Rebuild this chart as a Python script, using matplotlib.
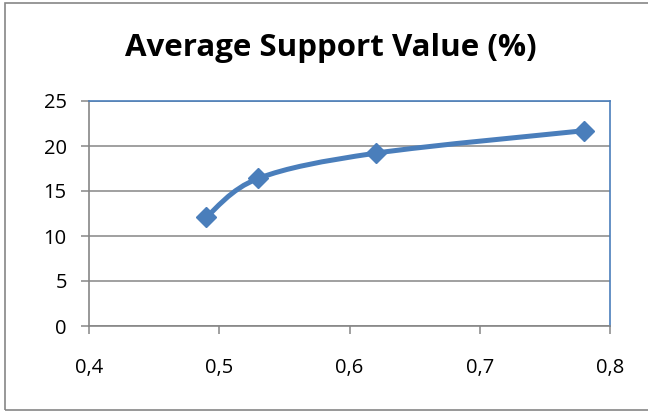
import matplotlib.pyplot as plt
from matplotlib.path import Path
from matplotlib.patches import PathPatch, Rectangle
from matplotlib.ticker import FuncFormatter

# data
support = [0.49, 0.53, 0.62, 0.78]
avg_value = [12.1, 16.4, 19.2, 21.7]
title = "Average Support Value (%)"

blue = "#4A7EBB"
grey = "#868686"

plt.rcParams['font.family'] = ['Open Sans', 'DejaVu Sans']

fig = plt.figure(figsize=(6.48, 4.12), dpi=100)
ax = fig.add_axes([89 / 648, 1 - 326 / 412, (610 - 89) / 648, (326 - 101) / 412])

# outer chart frame
fig.patches.append(Rectangle((5 / 648, 2 / 412), 1.2, 1 - 5 / 412, transform=fig.transFigure,
                             fill=False, edgecolor=grey, linewidth=1.2))

# smooth line (Excel style bezier through the points)
pts = list(zip(support, avg_value))
verts = [pts[0]]
codes = [Path.MOVETO]
for i in range(len(pts) - 1):
    p0 = pts[i - 1] if i > 0 else pts[i]
    p1 = pts[i]
    p2 = pts[i + 1]
    p3 = pts[i + 2] if i + 2 < len(pts) else pts[i + 1]
    c1 = (p1[0] + (p2[0] - p0[0]) / 6, p1[1] + (p2[1] - p0[1]) / 6)
    c2 = (p2[0] - (p3[0] - p1[0]) / 6, p2[1] - (p3[1] - p1[1]) / 6)
    verts += [c1, c2, p2]
    codes += [Path.CURVE4] * 3
ax.add_patch(PathPatch(Path(verts, codes), fill=False, edgecolor=blue, linewidth=3.6,
                       capstyle='round', joinstyle='round', zorder=3))
ax.plot(support, avg_value, linestyle='none', marker='D', markersize=10, color=blue, zorder=4)

ax.set_xlim(0.4, 0.8)
ax.set_ylim(0, 25)
ax.set_xticks([0.4, 0.5, 0.6, 0.7, 0.8])
ax.set_yticks(range(0, 26, 5))
ax.xaxis.set_major_formatter(FuncFormatter(lambda v, p: f"{v:.1f}".replace('.', ',')))
ax.grid(axis='y', color=grey, linewidth=1.1)
ax.set_axisbelow(True)

for s in ['top', 'right']:
    ax.spines[s].set_color(blue)
    ax.spines[s].set_linewidth(1.2)
for s in ['left', 'bottom']:
    ax.spines[s].set_color(grey)
    ax.spines[s].set_linewidth(1.2)
ax.tick_params(axis='both', direction='out', length=6, width=1.1, color=grey,
               labelsize=14.5, labelcolor='black')
ax.tick_params(axis='y', pad=10)
ax.tick_params(axis='x', pad=17)

fig.text(331 / 648, 1 - 48 / 412, title, ha='center', va='center',
         fontsize=22.5, fontweight='bold')

plt.savefig('out.png', dpi=100)
plt.close()
